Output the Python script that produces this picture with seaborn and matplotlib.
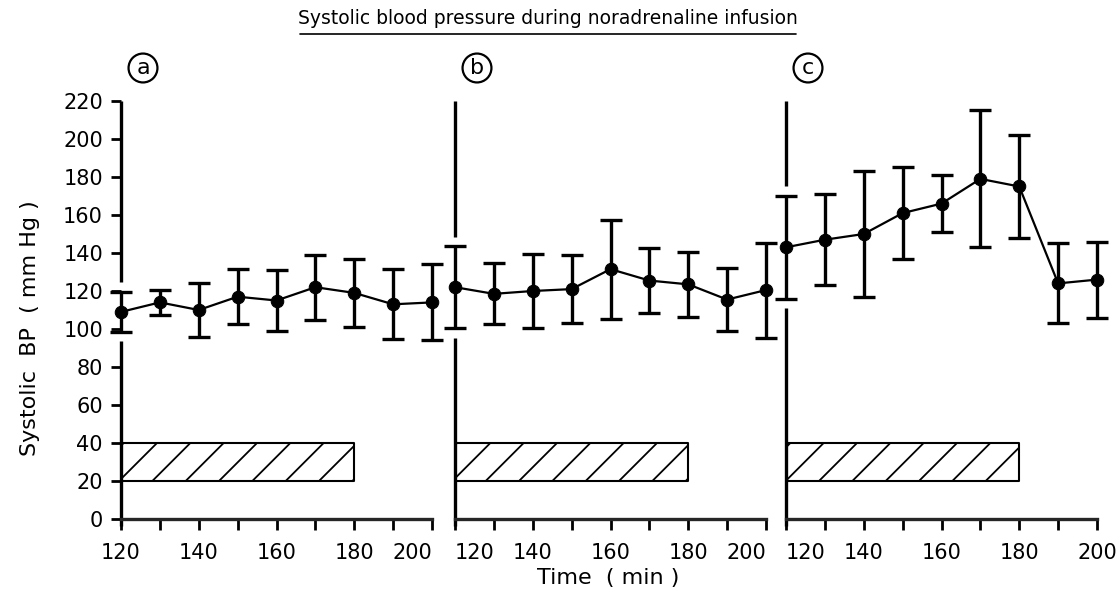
import numpy as np
import pandas as pd
import seaborn as sns
import matplotlib.pyplot as plt
from matplotlib.lines import Line2D

# time points (min) and systolic BP values
times = [120, 130, 140, 150, 160, 170, 180, 190, 200]

bp_a = [109, 114, 110, 117, 115, 122, 119, 113, 114]
err_a = [10.5, 6.5, 14, 14.5, 16, 17, 18, 18.5, 20]

bp_b = [122, 118.5, 120, 121, 131.5, 125.5, 123.5, 115.5, 120.5]
err_b = [21.5, 16, 19.5, 18, 26, 17, 17, 16.5, 25]

bp_c = [143, 147, 150, 161, 166, 179, 175, 124, 126]
err_c = [27, 24, 33, 24, 15, 36, 27, 21, 20]

panel_names = ['a', 'b', 'c']

# noradrenaline infusion period (hatched bar)
infusion_x = [120, 180]
infusion_y = [20, 40]

y_ticks = list(range(0, 221, 20))
x_major = [120, 140, 160, 180, 200]
x_minor = [130, 150, 170, 190]

sns.set_theme(style="ticks")
plt.rcParams['font.family'] = ['DejaVu Sans']
plt.rcParams['text.color'] = 'black'
plt.rcParams['xtick.color'] = 'black'
plt.rcParams['ytick.color'] = 'black'
plt.rcParams['hatch.linewidth'] = 1.3

fig = plt.figure(figsize=(11.2, 5.99), dpi=100)

lefts = [121, 455, 786]
series = [(bp_a, err_a), (bp_b, err_b), (bp_c, err_c)]
# edge labels are nudged so neighbouring panels don't collide
first_ha = ['center', 'left', 'left']
last_ha = ['right', 'right', 'center']

for i, (left, (bp, err), name) in enumerate(zip(lefts, series, panel_names)):
    ax = fig.add_axes([left / 1120, 1 - 519 / 599, 311 / 1120, 421.8 / 599])
    df = pd.DataFrame({'time': times, 'bp': bp, 'err': err})

    ax.fill_between(infusion_x, infusion_y[0], infusion_y[1], facecolor='white',
                    edgecolor='black', hatch='/', linewidth=1.5, zorder=1)

    ax.errorbar(df['time'], df['bp'], yerr=df['err'], fmt='none', ecolor='black',
                elinewidth=2.4, capsize=8, capthick=2.4, clip_on=False, zorder=3)
    sns.lineplot(data=df, x='time', y='bp', ax=ax, color='black', linewidth=1.6,
                 marker='o', markersize=9, markeredgecolor='black', clip_on=False, zorder=4)

    ax.set_xlim(120, 200)
    ax.set_ylim(0, 222)

    # left axis line broken around the first error bar
    gap = 5
    top_end = bp[0] + err[0] + gap
    bot_end = bp[0] - err[0] - gap
    ax.plot([times[0], times[0]], [top_end, 220], color='black', lw=2.4,
            solid_capstyle='butt', clip_on=False)
    ax.plot([times[0], times[0]], [-3.5, bot_end], color='black', lw=2.4,
            solid_capstyle='butt', clip_on=False)

    for s in ['top', 'right', 'left']:
        ax.spines[s].set_visible(False)
    ax.spines['bottom'].set_linewidth(2.4)

    ax.set_xticks(x_major)
    ax.set_xticks(x_minor, minor=True)
    ax.tick_params(axis='x', which='both', direction='out', length=8, width=2,
                   pad=9, labelsize=15)
    labels = ax.get_xticklabels()
    labels[0].set_ha(first_ha[i])
    labels[-1].set_ha(last_ha[i])
    if i == 0:
        ax.set_yticks(y_ticks)
        ax.tick_params(axis='y', direction='out', length=7, width=2, pad=6,
                       labelsize=15)
    else:
        ax.set_yticks([])
    ax.set_xlabel('')
    ax.set_ylabel('')

    # circled panel letter
    fig.text((left + 22) / 1120, 1 - 68 / 599, name, ha='center', va='center', fontsize=16,
             bbox=dict(boxstyle='circle,pad=0.2', facecolor='white', edgecolor='black', linewidth=1.6))

fig.text(548 / 1120, 1 - 18 / 599, 'Systolic blood pressure during noradrenaline infusion',
         ha='center', va='center', fontsize=13.5)
fig.add_artist(Line2D([300 / 1120, 796 / 1120], [1 - 34 / 599, 1 - 34 / 599],
                      color='black', lw=1.2))

fig.text(30 / 1120, 1 - 328 / 599, 'Systolic  BP  ( mm Hg )', rotation=90,
         ha='center', va='center', fontsize=16)
fig.text(608 / 1120, 1 - 578 / 599, 'Time  ( min )', ha='center', va='center', fontsize=16)

fig.savefig('out.png', dpi=100)
